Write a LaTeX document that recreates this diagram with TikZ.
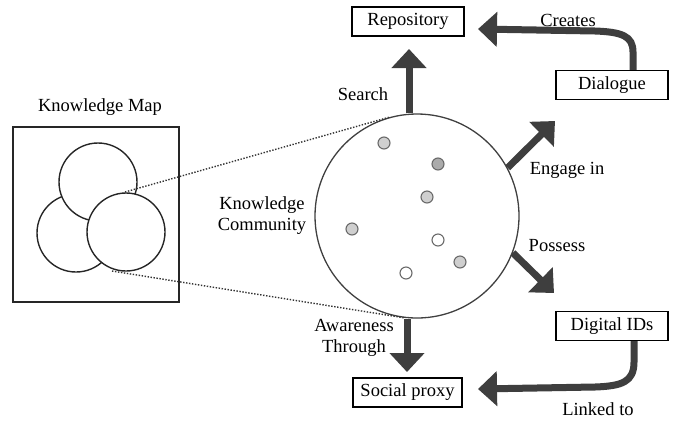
\documentclass[tikz,border=0pt]{standalone}
\usepackage{fontspec}
\setmainfont{Liberation Serif}
\usetikzlibrary{arrows.meta}
\definecolor{arr}{HTML}{3E3E3E}
\definecolor{dotl}{HTML}{CFCFCF}
\definecolor{dotd}{HTML}{ABABAB}
\definecolor{dotrim}{HTML}{6A6A6A}
\tikzset{
  lbl/.style={font=\fontsize{18.5}{21}\selectfont, inner sep=0pt, align=center},
  boxnode/.style={draw=black, line width=1.2pt, fill=white, minimum height=29pt, inner sep=0pt, font=\fontsize{18.5}{21}\selectfont},
  bigarrow/.style={draw=arr, line width=7pt, -{Triangle[width=34pt,length=19pt]}},
  mapcirc/.style={draw=black!85, line width=1.4pt, fill=white},
  dotl/.style={circle, draw=dotrim, line width=1.1pt, fill=dotl, minimum size=12pt, inner sep=0pt},
  dotd/.style={circle, draw=dotrim, line width=1.1pt, fill=dotd, minimum size=12pt, inner sep=0pt},
  dotw/.style={circle, draw=dotrim, line width=1.1pt, fill=white, minimum size=12pt, inner sep=0pt},
  zoomline/.style={draw=black!80, line width=1.4pt, dash pattern=on 1.4pt off 1.6pt}
}
\begin{document}
\begin{tikzpicture}[x=1pt,y=-1pt]
\useasboundingbox (0,0) rectangle (676,421);
% knowledge map
\node[lbl] (kmlabel) at (100,107) {Knowledge Map};
\node[draw=black!85, line width=1.5pt, minimum width=166pt, minimum height=175pt, inner sep=0pt] (kmbox) at (96,214.5) {};
\node[mapcirc, circle, minimum size=78pt, inner sep=0pt] (cl) at (76,233) {};
\node[mapcirc, circle, minimum size=78pt, inner sep=0pt] (ct) at (98,182) {};
\node[mapcirc, circle, minimum size=78pt, inner sep=0pt] (cr) at (126,232) {};
\coordinate (zt) at (125,192);
\coordinate (zb) at (112,271);
% community circle
\node[circle, draw=black!75, line width=1.3pt, minimum size=204pt, inner sep=0pt] (comm) at (417,216) {};
\draw[zoomline] (zt) -- (comm.{106});
\draw[zoomline] (zb) -- (comm.{-97});
\node[dotl] (d1) at (384,143) {};
\node[dotd] (d2) at (438,164) {};
\node[dotl] (d3) at (427,197) {};
\node[dotl] (d4) at (352,229) {};
\node[dotw] (d5) at (438,240) {};
\node[dotl] (d6) at (460,262) {};
\node[dotw] (d7) at (406,273) {};
\node[lbl] (kclabel) at (262,216) {Knowledge\\Community};
% boxes
\node[boxnode, minimum width=112pt] (repo) at (408,21.5) {Repository};
\node[boxnode, minimum width=112pt] (dial) at (612,85) {Dialogue};
\node[boxnode, minimum width=112pt] (dig) at (612,326) {Digital IDs};
\node[boxnode, minimum width=109pt] (soc) at (407.5,392.5) {Social proxy};
% arrows from community
\coordinate (searchtip) at (409,49);
\draw[bigarrow] (comm.north -| searchtip) -- (searchtip);
\node[lbl] (search) at (363,94) {Search};
\coordinate (engtip) at (555,121);
\draw[bigarrow] (comm.{28}) -- (engtip);
\node[lbl] (engage) at (567,170) {Engage in};
\coordinate (postip) at (554,293);
\draw[bigarrow] (comm.{-21}) -- (postip);
\node[lbl] (possess) at (557,246) {Possess};
\coordinate (awtip) at (407,372);
\draw[bigarrow] (comm.south -| awtip) -- (awtip);
\node[lbl] (aware) at (354,338) {Awareness\\Through};
% curved arrows
\coordinate (crtip) at (478,29);
\draw[bigarrow] (dial.north -| 633,0) -- (633,52) .. controls (633,36) and (622,32) .. (595,31) -- (crtip);
\node[lbl] (creates) at (568,20) {Creates};
\coordinate (lktip) at (478,389);
\draw[bigarrow] (dig.south -| 634,0) -- (634,362) .. controls (634,382) and (622,386) .. (595,387) -- (lktip);
\node[lbl] (linked) at (598,409) {Linked to};
\end{tikzpicture}
\end{document}
